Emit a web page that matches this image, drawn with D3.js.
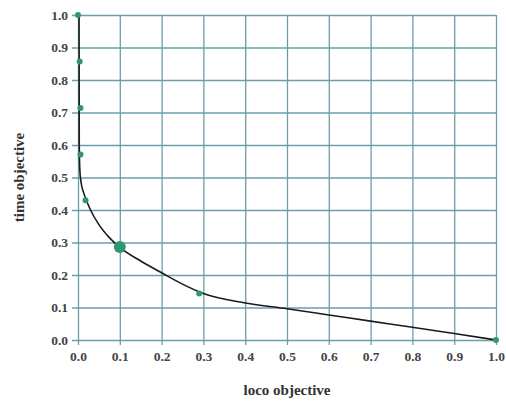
<!DOCTYPE html>
<html>
<head>
<meta charset="utf-8">
<script src="https://cdn.jsdelivr.net/npm/d3@7"></script>
<style>
  body { margin: 0; background: #fff; }
  text { font-family: "Liberation Serif", "DejaVu Serif", serif; font-weight: bold; }
</style>
</head>
<body>
<div id="chart"></div>
<script>
const ticks = [0, 0.1, 0.2, 0.3, 0.4, 0.5, 0.6, 0.7, 0.8, 0.9, 1.0];

// pareto points
const pointX = [0.0, 0.004, 0.006, 0.006, 0.018, 0.1, 0.29, 1.0];
const pointY = [1.0, 0.857, 0.714, 0.571, 0.43, 0.286, 0.143, 0.0];
const pointBig = [false, false, false, false, false, true, false, false];

// fitted front
const curveX = [0.0025, 0.003, 0.0045, 0.008, 0.013, 0.02, 0.03, 0.05, 0.075, 0.1, 0.15, 0.2, 0.25, 0.3, 0.4, 0.5, 0.6, 0.7, 0.8, 0.9, 1.0];
const curveY = [1.0, 0.6, 0.52, 0.48, 0.455, 0.43, 0.4, 0.355, 0.315, 0.285, 0.243, 0.207, 0.172, 0.143, 0.114, 0.096, 0.077, 0.058, 0.039, 0.02, 0.0];

const width = 506, height = 407;
const margin = { left: 78, right: 10, top: 15, bottom: 67 };

const svg = d3.select("#chart").append("svg")
  .attr("width", width)
  .attr("height", height);

const x = d3.scaleLinear().domain([0, 1]).range([margin.left, width - margin.right]);
const y = d3.scaleLinear().domain([0, 1]).range([height - margin.bottom, margin.top]);

const gridColor = "#6a9fa9";

// grid with small tick stubs
svg.append("g")
  .attr("transform", `translate(0,${y(0)})`)
  .call(d3.axisBottom(x).tickValues(ticks).tickFormat(d3.format(".1f"))
    .tickSize(-(y(0) - y(1)))
    .tickPadding(11))
  .call(g => g.select(".domain").remove())
  .call(g => g.selectAll(".tick line").attr("stroke", gridColor).attr("stroke-width", 1.3).attr("y1", 5))
  .call(g => g.selectAll(".tick text").attr("fill", "#444").attr("font-size", 13.5));

svg.append("g")
  .attr("transform", `translate(${x(0)},0)`)
  .call(d3.axisLeft(y).tickValues(ticks).tickFormat(d3.format(".1f"))
    .tickSize(-(x(1) - x(0)))
    .tickPadding(10))
  .call(g => g.select(".domain").remove())
  .call(g => g.selectAll(".tick line").attr("stroke", gridColor).attr("stroke-width", 1.3).attr("x1", -6))
  .call(g => g.selectAll(".tick text").attr("fill", "#444").attr("font-size", 13.5));

// curve
const curveData = curveX.map((d, i) => [d, curveY[i]]);
svg.append("path")
  .datum(curveData)
  .attr("fill", "none")
  .attr("stroke", "#1a1a1a")
  .attr("stroke-width", 1.6)
  .attr("d", d3.line().x(d => x(d[0])).y(d => y(d[1])).curve(d3.curveMonotoneX));

// points
svg.append("g")
  .selectAll("circle")
  .data(pointX.map((d, i) => ({ x: d, y: pointY[i], big: pointBig[i] })))
  .enter().append("circle")
  .attr("cx", d => x(d.x))
  .attr("cy", d => y(d.y))
  .attr("r", d => d.big ? 6 : 3)
  .attr("fill", "#2f9872");

// axis titles
svg.append("text")
  .attr("x", x(0.5))
  .attr("y", 395)
  .attr("text-anchor", "middle")
  .attr("font-size", 15)
  .attr("fill", "#333")
  .text("loco objective");

svg.append("text")
  .attr("transform", `translate(24,${y(0.5)}) rotate(-90)`)
  .attr("text-anchor", "middle")
  .attr("font-size", 15)
  .attr("fill", "#333")
  .text("time objective");
</script>
</body>
</html>
